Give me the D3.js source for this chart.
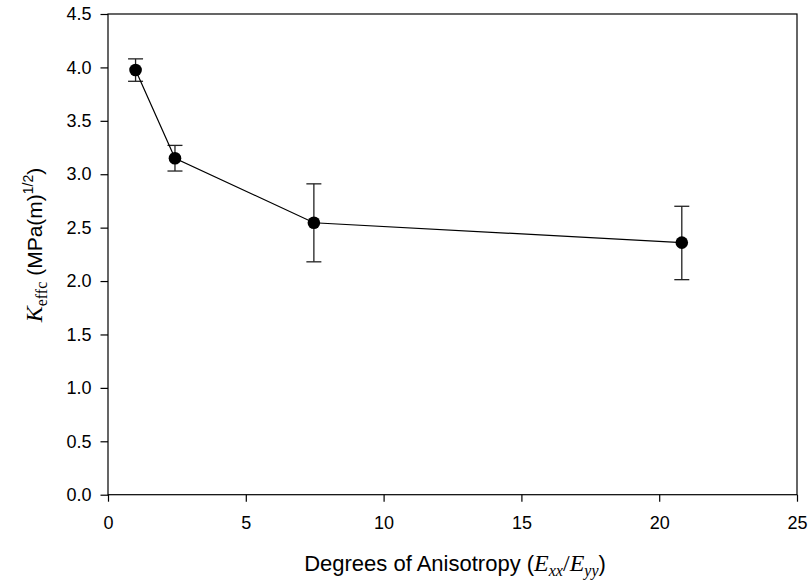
<!DOCTYPE html>
<html>
<head>
<meta charset="utf-8">
<script src="https://cdn.jsdelivr.net/npm/d3@7"></script>
<style>
  body { margin: 0; background: #fff; }
  svg { display: block; }
</style>
</head>
<body>
<svg width="808" height="584"></svg>
<script>
// anisotropy vs effective toughness
const anisotropy = [1.0, 2.43, 7.47, 20.82];
const kEffc = [3.976, 3.15, 2.546, 2.36];
const errUp = [4.08, 3.27, 2.91, 2.70];
const errLow = [3.87, 3.03, 2.18, 2.013];
const xTicks = [0, 5, 10, 15, 20, 25];
const yTicks = [0, 0.5, 1, 1.5, 2, 2.5, 3, 3.5, 4, 4.5];

const svg = d3.select("svg");
const plotLeft = 108, plotRight = 797, plotTop = 14, plotBottom = 494.7;

const x = d3.scaleLinear().domain([0, 25]).range([plotLeft, plotRight]);
const y = d3.scaleLinear().domain([0, 4.5]).range([plotBottom, plotTop]);

const font = "Liberation Sans, Arial, sans-serif";
const serif = "Liberation Serif, Times New Roman, serif";

// frame
svg.append("rect")
  .attr("x", plotLeft).attr("y", plotTop)
  .attr("width", plotRight - plotLeft).attr("height", plotBottom - plotTop)
  .attr("fill", "none").attr("stroke", "#000").attr("stroke-width", 1.2);

// axes
const xAxis = svg.append("g")
  .attr("transform", `translate(0,${plotBottom})`)
  .call(d3.axisBottom(x).tickValues(xTicks).tickSize(7).tickPadding(15).tickFormat(d3.format("d")));
const yAxis = svg.append("g")
  .attr("transform", `translate(${plotLeft},0)`)
  .call(d3.axisLeft(y).tickValues(yTicks).tickSize(7.5).tickPadding(9).tickFormat(d3.format(".1f")));

[xAxis, yAxis].forEach((g) => {
  g.select(".domain").remove();
  g.selectAll("line").attr("stroke", "#000").attr("stroke-width", 1.2);
  g.selectAll("text")
    .attr("fill", "#000")
    .attr("font-size", 18)
    .attr("font-family", font);
});

const data = anisotropy.map((d, i) => ({
  x: d, y: kEffc[i], hi: errUp[i], lo: errLow[i]
}));

// error bars
const eb = svg.append("g").attr("stroke", "#222").attr("stroke-width", 1.3);
data.forEach((d) => {
  eb.append("line")
    .attr("x1", x(d.x)).attr("x2", x(d.x))
    .attr("y1", y(d.hi)).attr("y2", y(d.lo));
  [d.hi, d.lo].forEach((v) => {
    eb.append("line")
      .attr("x1", x(d.x) - 7.5).attr("x2", x(d.x) + 7.5)
      .attr("y1", y(v)).attr("y2", y(v));
  });
});

// line
svg.append("path")
  .datum(data)
  .attr("fill", "none")
  .attr("stroke", "#000")
  .attr("stroke-width", 1.2)
  .attr("d", d3.line().x((d) => x(d.x)).y((d) => y(d.y)));

// markers
svg.selectAll("circle.pt")
  .data(data)
  .enter()
  .append("circle")
  .attr("class", "pt")
  .attr("cx", (d) => x(d.x))
  .attr("cy", (d) => y(d.y))
  .attr("r", 6.3)
  .attr("fill", "#000");

// x label
const xl = svg.append("text")
  .attr("x", 455).attr("y", 571)
  .attr("text-anchor", "middle")
  .attr("font-family", font)
  .attr("font-size", 22)
  .attr("fill", "#000");
xl.append("tspan").text("Degrees of Anisotropy (");
xl.append("tspan").attr("font-family", serif).attr("font-style", "italic").attr("font-size", 24).text("E");
xl.append("tspan").attr("font-family", serif).attr("font-style", "italic").attr("font-size", 16).attr("dy", 5).text("xx");
xl.append("tspan").attr("font-family", serif).attr("font-size", 24).attr("dy", -5).text("/");
xl.append("tspan").attr("font-family", serif).attr("font-style", "italic").attr("font-size", 24).text("E");
xl.append("tspan").attr("font-family", serif).attr("font-style", "italic").attr("font-size", 16).attr("dy", 5).text("yy");
xl.append("tspan").attr("dy", -5).text(")");

// y label
const yl = svg.append("text")
  .attr("transform", "translate(42,245) rotate(-90)")
  .attr("text-anchor", "middle")
  .attr("font-family", font)
  .attr("font-size", 21)
  .attr("fill", "#000");
yl.append("tspan").attr("font-family", serif).attr("font-style", "italic").attr("font-size", 24).text("K");
yl.append("tspan").attr("font-family", serif).attr("font-size", 16).attr("dy", 5).text("effc");
yl.append("tspan").attr("dy", -5).text(" (MPa(m)");
yl.append("tspan").attr("font-size", 14).attr("dy", -9).text("1/2");
yl.append("tspan").attr("dy", 9).text(")");
</script>
</body>
</html>
